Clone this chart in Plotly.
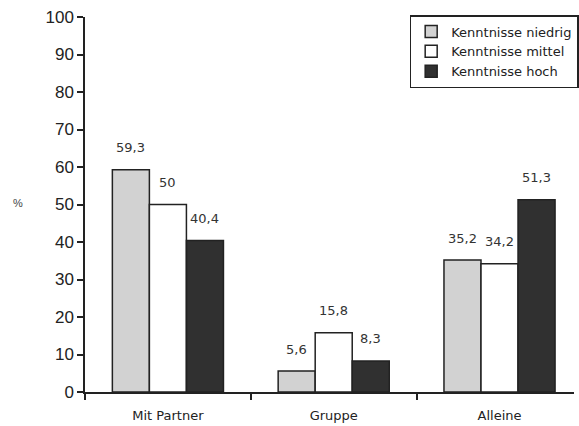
import plotly.graph_objects as go

categories = ["Mit Partner", "Gruppe", "Alleine"]
series_names = ["Kenntnisse niedrig", "Kenntnisse mittel", "Kenntnisse hoch"]
niedrig = [59.3, 5.6, 35.2]
mittel = [50.0, 15.8, 34.2]
hoch = [40.4, 8.3, 51.3]
y_ticks = [0, 10, 20, 30, 40, 50, 60, 70, 80, 90, 100]

series_values = [niedrig, mittel, hoch]
fills = ["#d2d2d2", "#ffffff", "#303030"]

BARGAP = 0.33
bar_w = (1 - BARGAP) / 3
FONT = "Arial, Liberation Sans"
WIDE = "DejaVu Sans"

fig = go.Figure()
for name, vals, col in zip(series_names, series_values, fills):
    fig.add_trace(go.Bar(
        x=categories, y=vals, name=name,
        marker=dict(color=col, line=dict(color="#222222", width=1.5)),
    ))

def fmt(v):
    s = f"{v:.1f}".replace(".", ",")
    return s[:-2] if s.endswith(",0") else s

# value labels above each bar
for j, vals in enumerate(series_values):
    for i, v in enumerate(vals):
        fig.add_annotation(
            x=i + (j - 1) * bar_w, y=v, xref="x", yref="y",
            text=fmt(v), showarrow=False, yshift=22,
            font=dict(family=WIDE, size=13, color="#333333"),
        )

# axis unit label on the left
fig.add_annotation(
    x=-0.1377, y=0.504, xref="paper", yref="paper",
    text="%", showarrow=False, xanchor="center", yanchor="middle",
    font=dict(family=FONT, size=11, color="#444444"),
)

fig.update_layout(
    width=579, height=426,
    margin=dict(l=85, r=0, t=17, b=34),
    plot_bgcolor="white", paper_bgcolor="white",
    barmode="group", bargap=BARGAP, bargroupgap=0,
    showlegend=True,
    legend=dict(
        x=(413 - 85) / 494, y=(392 - 15) / 375,
        xanchor="left", yanchor="top",
        bgcolor="white", bordercolor="#222222", borderwidth=1.5,
        font=dict(family=WIDE, size=13, color="#222222"),
        tracegroupgap=0, itemwidth=30,
    ),
    xaxis=dict(
        type="category", range=[-0.5, -0.5 + 494 / 167.5],
        showline=True, linecolor="#222222", linewidth=1.5,
        ticks="outside", tickson="boundaries", ticklen=6, tickcolor="#222222",
        tickwidth=1.5, showgrid=False, ticklabelstandoff=11,
        tickfont=dict(family=WIDE, size=13, color="#222222"),
    ),
    yaxis=dict(
        range=[0, 100], tickvals=y_ticks,
        showline=True, linecolor="#222222", linewidth=1.5,
        ticks="outside", ticklen=6, tickcolor="#222222", tickwidth=1.5,
        showgrid=False, zeroline=False,
        tickfont=dict(family=FONT, size=17, color="#222222"),
    ),
)

fig.write_html("out.html")
